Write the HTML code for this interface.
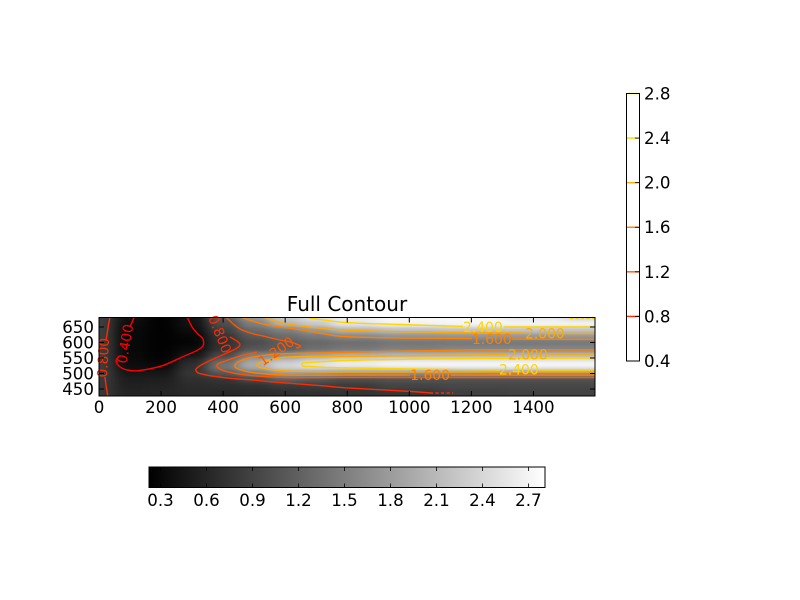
<!DOCTYPE html>
<html>
<head>
<meta charset="utf-8">
<title>Full Contour</title>
<style>
html,body{margin:0;padding:0;background:#fff;}
svg{display:block;}
text{font-family:"DejaVu Sans","Liberation Sans",sans-serif;fill:#000;}
</style>
</head>
<body>
<svg id="chart" width="800" height="600" viewBox="0 0 800 600" xmlns="http://www.w3.org/2000/svg">
  <defs>
    <clipPath id="axes-clip"><rect x="99" y="317.5" width="496" height="78.5"/></clipPath>
    <filter id="heat-blur" filterUnits="userSpaceOnUse" x="0" y="250" width="800" height="220" color-interpolation-filters="sRGB">
      <feGaussianBlur stdDeviation="7 1.9"/>
    </filter>
    <linearGradient id="gray-ramp" x1="0" x2="1" y1="0" y2="0">
      <stop offset="0" stop-color="#000"/><stop offset="1" stop-color="#fff"/>
    </linearGradient>
  </defs>
  <rect x="0" y="0" width="800" height="600" fill="#fff"/>
  <g clip-path="url(#axes-clip)">
    <g id="heatmap" filter="url(#heat-blur)"></g>
    <g id="contours"></g>
  </g>
  <g id="contour-labels"></g>
  <rect x="99" y="317.5" width="496" height="78.5" fill="none" stroke="#000" stroke-width="1"/>
  <g id="axis-ticks"></g>
  <text x="347" y="311" font-size="20" text-anchor="middle">Full Contour</text>

  <rect x="149" y="467" width="396" height="20.5" fill="url(#gray-ramp)"/>
  <g id="h-colorbar-ticks"></g>
  <rect x="149" y="467" width="396" height="20.5" fill="none" stroke="#000" stroke-width="1"/>

  <rect x="626.5" y="93.5" width="13" height="267.5" fill="#fff"/>
  <g id="v-colorbar-ticks"></g>
  <rect x="626.5" y="93.5" width="13" height="267.5" fill="none" stroke="#000" stroke-width="1"/>
</svg>
<script>
var xTicks = [0, 200, 400, 600, 800, 1000, 1200, 1400];
var yTicks = [450, 500, 550, 600, 650];
var heatColumns = [0, 100, 200, 300, 400, 500, 600, 700, 800, 1000, 1200, 1400, 1600];
var heatRows = [680, 660, 640, 620, 600, 580, 560, 540, 530, 520, 500, 480, 460, 440, 420];
var heatValues = [
  [.85,.40,.25,.42,1.15,1.75,2.25,2.5,2.65,2.75,2.75,2.6,2.4],
  [.85,.36,.25,.40,1.0,1.5,2.05,2.25,2.55,2.68,2.7,2.7,2.7],
  [.85,.33,.25,.36,.88,1.3,1.5,1.78,2.05,2.15,2.2,2.2,2.2],
  [.85,.32,.25,.30,.76,1.12,1.32,1.45,1.6,1.7,1.72,1.75,1.75],
  [.85,.32,.25,.28,.72,1.0,1.18,1.28,1.35,1.42,1.44,1.44,1.44],
  [.85,.32,.25,.34,.74,1.1,1.18,1.35,1.42,1.5,1.55,1.55,1.55],
  [.85,.33,.26,.44,.95,1.5,1.65,1.85,2.0,2.05,2.05,2.05,2.05],
  [.85,.34,.28,.62,1.25,1.85,2.15,2.35,2.5,2.55,2.55,2.55,2.55],
  [.85,.36,.32,.68,1.4,2.0,2.4,2.55,2.7,2.8,2.82,2.82,2.82],
  [.85,.38,.36,.72,1.4,1.9,2.3,2.4,2.45,2.5,2.55,2.55,2.55],
  [.85,.46,.46,.76,1.1,1.45,1.8,1.75,1.65,1.65,1.65,1.65,1.65],
  [.82,.52,.53,.7,.75,.95,1.2,1.1,1.0,1.05,1.05,1.05,1.05],
  [.8,.55,.57,.66,.68,.72,.82,.85,.83,.92,.95,.95,.95],
  [.78,.58,.6,.64,.64,.66,.7,.72,.74,.78,.88,.9,.9],
  [.78,.6,.6,.62,.62,.65,.68,.7,.72,.75,.86,.88,.88]
];
var contourLevels = [0.4, 0.8, 1.2, 1.6, 2.0, 2.4];
var contour04 = [
  [[113,681],[100,650]],
  [[64,556],[55,540],[68,521],[93,511],[126,509],[203,525],[267,553],[332,585],[335,611],[319,627],[300,650],[284,682]]
];
var contour08 = [
  [[35,682],[29,647],[23,608]],
  [[19,489],[23,460],[28,428]],
  [[422,618],[448,602],[454,592],[445,582],[412,566],[348,537],[313,515],[319,502],[400,487],[496,479],[606,469],[712,461],[809,453],[1009,442],[1067,437]]
];
var contour08Dashed = [[1067,437],[1141,437]];
var contour12 = [
  [[412,679],[429,663],[454,644],[493,629],[529,621],[583,608],[615,602],[644,592],[649,587],[635,582]],
  [[509,569],[454,556],[406,540],[380,527],[387,516],[416,505],[496,493],[606,487],[793,487],[999,487],[1598,487]]
];
var contour16 = [
  [[464,679],[529,660],[657,640],[793,619],[1202,613]],
  [[1331,611],[1598,610]],
  [[1598,576],[1196,576],[793,568],[583,563],[496,553],[454,540],[438,526],[448,515],[496,503],[606,495],[793,495],[1002,495]],
  [[1134,495],[1598,495]]
];
var contour20 = [
  [[535,679],[606,660],[793,640],[1196,632],[1376,631]],
  [[1444,629],[1598,629]],
  [[1598,563],[1449,563]],
  [[1318,561],[793,555],[606,553],[535,540],[509,529],[519,519],[606,508],[793,505],[1598,505]]
];
var contour24 = [
  [[677,679],[793,665],[970,658],[1173,652]],
  [[1305,650],[1598,650]],
  [[1598,550],[1196,548],[793,542],[680,535],[654,529],[680,523],[793,518],[1292,511]],
  [[1418,511],[1598,511]]
];
var contour24Dashed = [[1518,677],[1598,677]];
var contourLabelText = ["0.400", "0.800", "0.800", "1.200", "1.600", "1.600", "2.000", "2.000", "2.400", "2.400"];
var contourLabelLevel = [0.4, 0.8, 0.8, 1.2, 1.6, 1.6, 2.0, 2.0, 2.4, 2.4];
var contourLabelX = [84, 13, 390, 571, 1266, 1067, 1437, 1382, 1237, 1353];
var contourLabelY = [596, 551, 627, 572, 611, 495, 629, 561, 650, 513];
var contourLabelAngle = [-80, -87, 68, -35, 0, 0, 0, 0, 0, 0];
var hBarTicks = [0.3, 0.6, 0.9, 1.2, 1.5, 1.8, 2.1, 2.4, 2.7];
var vBarTicks = [0.4, 0.8, 1.2, 1.6, 2.0, 2.4, 2.8];

var NS = 'http://www.w3.org/2000/svg';
function xScale(v) { return 99 + v * 0.3103; }
function yScale(v) { return 389 - (v - 450) * 0.31; }
function hBarScale(v) { return 160.5 + (v - 0.3) * 153.3; }
function vBarScale(v) { return 361 - (v - 0.4) * 111.46; }
function grayOf(v) {
  var g = Math.round(Math.max(0, Math.min(1, (v - 0.228) / 2.582)) * 255);
  return 'rgb(' + g + ',' + g + ',' + g + ')';
}
function levelColor(l) {
  var g = Math.round((l - 0.4) / 2.4 * 255);
  return 'rgb(255,' + g + ',0)';
}
function make(parent, tag, attrs, text) {
  var el = document.createElementNS(NS, tag);
  for (var k in attrs) { el.setAttribute(k, attrs[k]); }
  if (text !== undefined) { el.textContent = text; }
  parent.appendChild(el);
  return el;
}
function smoothPath(points) {
  var p = points.map(function (q) { return [xScale(q[0]), yScale(q[1])]; });
  var d = 'M' + p[0][0].toFixed(1) + ' ' + p[0][1].toFixed(1);
  for (var i = 0; i < p.length - 1; i++) {
    var a = p[Math.max(0, i - 1)], b = p[i], c = p[i + 1], e = p[Math.min(p.length - 1, i + 2)];
    var segLen = Math.hypot(c[0] - b[0], c[1] - b[1]);
    var ab = Math.max(Math.hypot(c[0] - a[0], c[1] - a[1]), 0.01);
    var ce = Math.max(Math.hypot(e[0] - b[0], e[1] - b[1]), 0.01);
    var c1x = b[0] + (c[0] - a[0]) / ab * segLen / 3;
    var c1y = b[1] + (c[1] - a[1]) / ab * segLen / 3;
    var c2x = c[0] - (e[0] - b[0]) / ce * segLen / 3;
    var c2y = c[1] - (e[1] - b[1]) / ce * segLen / 3;
    d += 'C' + c1x.toFixed(1) + ' ' + c1y.toFixed(1) + ' ' + c2x.toFixed(1) + ' ' + c2y.toFixed(1) + ' ' + c[0].toFixed(1) + ' ' + c[1].toFixed(1);
  }
  return d;
}

var heat = document.getElementById('heatmap');
heatRows.forEach(function (rowVal, r) {
  var yTop = r === 0 ? yScale(rowVal) - 40 : (yScale(heatRows[r - 1]) + yScale(rowVal)) / 2;
  var yBot = r === heatRows.length - 1 ? yScale(rowVal) + 40 : (yScale(heatRows[r + 1]) + yScale(rowVal)) / 2;
  heatColumns.forEach(function (colVal, c) {
    var xL = c === 0 ? xScale(colVal) - 60 : (xScale(heatColumns[c - 1]) + xScale(colVal)) / 2;
    var xR = c === heatColumns.length - 1 ? xScale(colVal) + 60 : (xScale(heatColumns[c + 1]) + xScale(colVal)) / 2;
    var cell = make(heat, 'rect', {
      x: xL, y: yTop, width: xR - xL + 0.5, height: yBot - yTop + 0.5,
      fill: grayOf(heatValues[r][c])
    });
    
    
  });
});

var contourGroup = document.getElementById('contours');
function drawSegment(points, level, dashed) {
  var line = make(contourGroup, 'path', {
    d: smoothPath(points), fill: 'none', stroke: levelColor(level), 'stroke-width': 1.4, 'stroke-linejoin': 'round'
  });
  if (dashed) { line.setAttribute('stroke-dasharray', '3 2.5'); }
  
  
}
[contour04, contour08, contour12, contour16, contour20, contour24].forEach(function (segs, i) {
  segs.forEach(function (s) { drawSegment(s, contourLevels[i], false); });
});
drawSegment(contour08Dashed, 0.8, true);
drawSegment(contour24Dashed, 2.4, true);

var labelGroup = document.getElementById('contour-labels');
contourLabelText.forEach(function (t, i) {
  var px = xScale(contourLabelX[i]), py = yScale(contourLabelY[i]);
  var lab = make(labelGroup, 'text', {
    x: px, y: py + 5, 'font-size': 13.89, 'text-anchor': 'middle',
    transform: 'rotate(' + contourLabelAngle[i] + ' ' + px + ' ' + py + ')',
    style: 'fill:' + levelColor(contourLabelLevel[i])
  }, t);
  
  
});

var tickGroup = document.getElementById('axis-ticks');
xTicks.forEach(function (v) {
  var x = xScale(v);
  var b = make(tickGroup, 'line', { x1: x, x2: x, y1: 396, y2: 391, stroke: '#000', 'stroke-width': 1 });
  
  
  var t = make(tickGroup, 'line', { x1: x, x2: x, y1: 317.5, y2: 322.5, stroke: '#000', 'stroke-width': 1 });
  
  
  var lab = make(tickGroup, 'text', { x: x, y: 413, 'font-size': 16.67, 'text-anchor': 'middle' }, String(v));
  
  
});
yTicks.forEach(function (v) {
  var y = yScale(v);
  var l = make(tickGroup, 'line', { x1: 99, x2: 104, y1: y, y2: y, stroke: '#000', 'stroke-width': 1 });
  
  
  var r = make(tickGroup, 'line', { x1: 595, x2: 590, y1: y, y2: y, stroke: '#000', 'stroke-width': 1 });
  
  
  var lab = make(tickGroup, 'text', { x: 94, y: y + 6, 'font-size': 16.67, 'text-anchor': 'end' }, String(v));
  
  
});

var hGroup = document.getElementById('h-colorbar-ticks');
hBarTicks.forEach(function (v) {
  var x = hBarScale(v);
  var a = make(hGroup, 'line', { x1: x, x2: x, y1: 467, y2: 471, stroke: '#000', 'stroke-width': 0.8 });
  
  
  var b = make(hGroup, 'line', { x1: x, x2: x, y1: 487.5, y2: 483.5, stroke: '#000', 'stroke-width': 0.8 });
  
  
  var lab = make(hGroup, 'text', { x: x, y: 506, 'font-size': 16.67, 'text-anchor': 'middle' }, v.toFixed(1));
  
  
});

var vGroup = document.getElementById('v-colorbar-ticks');
vBarTicks.forEach(function (v) {
  var y = vBarScale(v);
  if (v > 0.5) {
    var band = make(vGroup, 'line', { x1: 627, x2: 639, y1: y, y2: y, stroke: levelColor(v), 'stroke-width': 1.4 });
    
    
  }
  var t = make(vGroup, 'line', { x1: 635, x2: 639.5, y1: y, y2: y, stroke: '#000', 'stroke-width': 0.8 });
  
  
  var lab = make(vGroup, 'text', { x: 644, y: y + 6, 'font-size': 16.67 }, v.toFixed(1));
  
  
});
</script>
</body>
</html>
